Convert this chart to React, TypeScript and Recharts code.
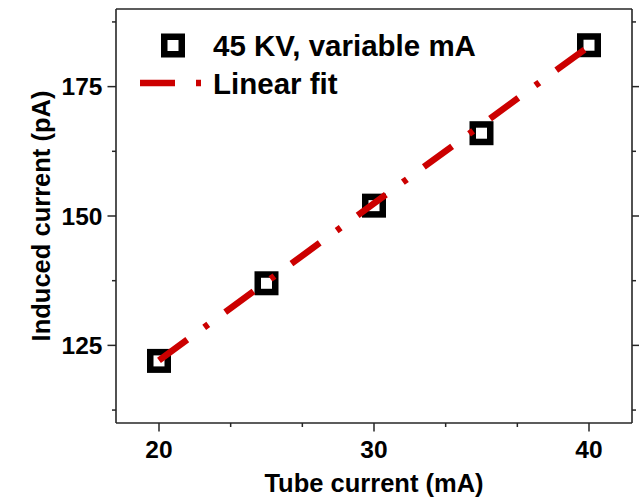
import React from 'react';
import { ComposedChart, Scatter, Line, XAxis, YAxis, Legend } from 'recharts';

// Measured induced current vs tube current at 45 kV
const tubeCurrent = [20, 25, 30, 35, 40];
const inducedCurrent = [122, 137, 152, 166, 183];

// Linear fit end points
const fitX = [20, 40];
const fitY = [122.1, 182.8];

const xMajorTicks = [20, 30, 40];
const yMajorTicks = [125, 150, 175];
const xDomain: [number, number] = [18, 42];
const yDomain: [number, number] = [110, 190];

const seriesLabel = '45 KV, variable mA';
const fitLabel = 'Linear fit';
const xTitle = 'Tube current (mA)';
const yTitle = 'Induced current (pA)';

const measured = tubeCurrent.map((x, i) => ({ x, y: inducedCurrent[i] }));
const fit = fitX.map((x, i) => ({ x, y: fitY[i] }));

// majors plus evenly spaced minor ticks between them
const withMinor = (majors: number[], minorCount: number) => {
  const out: number[] = [];
  const step = majors[1] - majors[0];
  const sub = step / (minorCount + 1);
  const lo = majors[0] - step;
  const hi = majors[majors.length - 1] + step;
  for (let v = lo; v <= hi + 1e-9; v += sub) out.push(Math.round(v * 1000) / 1000);
  return out;
};
const xTicks = withMinor(xMajorTicks, 2).filter((v) => v >= xDomain[0] && v <= xDomain[1]);
const yTicks = withMinor(yMajorTicks, 1).filter((v) => v >= yDomain[0] && v <= yDomain[1]);

const FONT = "Arial, 'Liberation Sans', sans-serif";
const AXIS = '#262626';
const RED = '#cc0000';
const DASH = '35 21 5 21';
const BOX = 17.5;
const BOX_STROKE = 6.5;

const isMajor = (v: number, majors: number[]) => majors.some((m) => Math.abs(m - v) < 1e-6);

const tickFor = (side: 'bottom' | 'top' | 'left' | 'right') => (props: any) => {
  const { x, y, payload } = props;
  const major = isMajor(payload.value, side === 'bottom' || side === 'top' ? xMajorTicks : yMajorTicks);
  const len = major ? 8.5 : 4;
  const stroke = { stroke: AXIS, strokeWidth: 1.5 };
  if (side === 'bottom') {
    return (
      <g>
        <line x1={x} x2={x} y1={y} y2={y + len} {...stroke} />
        {major && (
          <text x={x} y={y + 35} textAnchor="middle" fontFamily={FONT} fontWeight="bold" fontSize={24.5} fill="#000">
            {payload.value}
          </text>
        )}
      </g>
    );
  }
  if (side === 'top') return <line x1={x} x2={x} y1={y} y2={y - len} {...stroke} />;
  if (side === 'right') return <line x1={x} x2={x + len} y1={y} y2={y} {...stroke} />;
  return (
    <g>
      <line x1={x} x2={x - len} y1={y} y2={y} {...stroke} />
      {major && (
        <text x={x - 13.5} y={y + 8.5} textAnchor="end" fontFamily={FONT} fontWeight="bold" fontSize={24.5} fill="#000">
          {payload.value}
        </text>
      )}
    </g>
  );
};

const SquareMarker = (props: any) => {
  const { cx, cy } = props;
  return (
    <rect x={cx - BOX / 2} y={cy - BOX / 2} width={BOX} height={BOX} fill="#fff" stroke="#000" strokeWidth={BOX_STROKE} />
  );
};

const LegendBox = () => (
  <svg width={360} height={80}>
    <rect x={33 - BOX / 2} y={25.5 - BOX / 2} width={BOX} height={BOX} fill="#fff" stroke="#000" strokeWidth={BOX_STROKE} />
    <text x={73} y={35.5} fontFamily={FONT} fontWeight="bold" fontSize={29.5} fill="#000">
      {seriesLabel}
    </text>
    <line x1={0} x2={70} y1={63} y2={63} stroke={RED} strokeWidth={6.5} strokeDasharray={DASH} />
    <text x={73} y={73.5} fontFamily={FONT} fontWeight="bold" fontSize={29.5} fill="#000">
      {fitLabel}
    </text>
  </svg>
);

const XTitle = (props: any) => {
  const { x, y, width } = props.viewBox;
  return (
    <text x={x + width / 2} y={y + 68.5} textAnchor="middle" fontFamily={FONT} fontWeight="bold" fontSize={25.5} fill="#000">
      {xTitle}
    </text>
  );
};

const YTitle = (props: any) => {
  const { x, y, height } = props.viewBox;
  const cx = x + 13.5;
  const cy = y + height / 2;
  return (
    <text x={cx} y={cy} transform={`rotate(-90, ${cx}, ${cy})`} textAnchor="middle" fontFamily={FONT} fontWeight="bold" fontSize={25.5} fill="#000">
      {yTitle}
    </text>
  );
};

export default function App() {
  return (
    <div style={{ position: 'absolute', left: 0, top: 0, background: '#fff' }}>
      <ComposedChart width={639} height={498} margin={{ top: 0, right: 0, bottom: 15, left: 36 }}>
        <XAxis
          xAxisId="b"
          dataKey="x"
          type="number"
          domain={xDomain}
          ticks={xTicks}
          allowDataOverflow
          height={60}
          tickSize={0}
          tickMargin={0}
          tickLine={false}
          tick={tickFor('bottom')}
          axisLine={{ stroke: AXIS, strokeWidth: 1.6 }}
          interval={0}
          label={<XTitle />}
        />
        <XAxis
          xAxisId="t"
          orientation="top"
          type="number"
          domain={xDomain}
          ticks={xTicks}
          allowDataOverflow
          height={9}
          tickSize={0}
          tickMargin={0}
          tickLine={false}
          tick={tickFor('top')}
          axisLine={{ stroke: AXIS, strokeWidth: 1.6 }}
          interval={0}
        />
        <YAxis
          yAxisId="l"
          type="number"
          domain={yDomain}
          ticks={yTicks}
          allowDataOverflow
          width={80}
          tickSize={0}
          tickMargin={0}
          tickLine={false}
          tick={tickFor('left')}
          axisLine={{ stroke: AXIS, strokeWidth: 1.6 }}
          interval={0}
          label={<YTitle />}
        />
        <YAxis
          yAxisId="r"
          orientation="right"
          type="number"
          domain={yDomain}
          ticks={yTicks}
          allowDataOverflow
          width={7}
          tickSize={0}
          tickMargin={0}
          tickLine={false}
          tick={tickFor('right')}
          axisLine={{ stroke: AXIS, strokeWidth: 1.6 }}
          interval={0}
        />
        <Legend
          layout="horizontal"
          verticalAlign="middle"
          align="center"
          content={<LegendBox />}
          wrapperStyle={{ left: 140, top: 20, width: 360, height: 80 }}
        />
        <Scatter
          xAxisId="b"
          yAxisId="l"
          name={seriesLabel}
          data={measured}
          dataKey="y"
          shape={<SquareMarker />}
          isAnimationActive={false}
        />
        <Line
          xAxisId="b"
          yAxisId="l"
          name={fitLabel}
          data={fit}
          dataKey="y"
          type="linear"
          stroke={RED}
          strokeWidth={6.5}
          strokeDasharray={DASH}
          dot={false}
          activeDot={false}
          zIndex={700}
          isAnimationActive={false}
        />
      </ComposedChart>
    </div>
  );
}
